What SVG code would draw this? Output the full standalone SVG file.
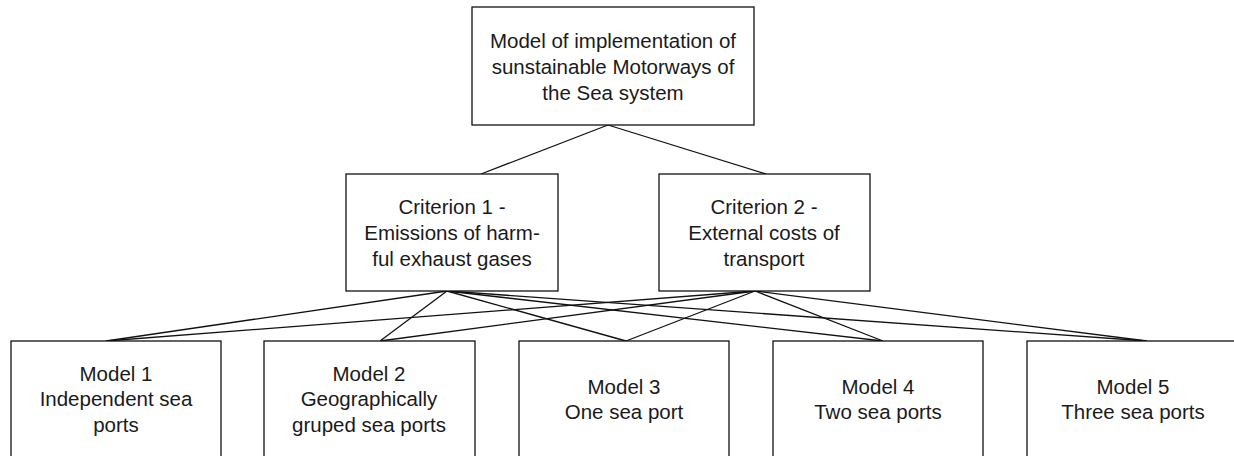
<svg xmlns="http://www.w3.org/2000/svg" width="1234" height="456" viewBox="0 0 1234 456">
<style>
.box{fill:#fff;stroke:#111;stroke-width:1.3}
.t{font-family:"Liberation Sans",Arial,sans-serif;font-size:20.5px;fill:#1a1a1a;text-anchor:middle}
.c{stroke:#111;stroke-width:1.3;fill:none}
</style>
<rect width="1234" height="456" fill="#fff"/>
<g id="connectors">
<line class="c" x1="608" y1="125" x2="481" y2="174"/>
<line class="c" x1="608" y1="125" x2="766" y2="174"/>
<line class="c" x1="447" y1="291" x2="106" y2="341"/>
<line class="c" x1="447" y1="291" x2="380" y2="341"/>
<line class="c" x1="447" y1="291" x2="626" y2="341"/>
<line class="c" x1="447" y1="291" x2="883" y2="341"/>
<line class="c" x1="447" y1="291" x2="1147" y2="341"/>
<line class="c" x1="755" y1="291" x2="106" y2="341"/>
<line class="c" x1="755" y1="291" x2="380" y2="341"/>
<line class="c" x1="755" y1="291" x2="626" y2="341"/>
<line class="c" x1="755" y1="291" x2="883" y2="341"/>
<line class="c" x1="755" y1="291" x2="1147" y2="341"/>
</g>
<g id="root">
<rect class="box" x="472" y="7" width="282" height="118"/>
<text class="t" x="613" y="48">Model of implementation of</text>
<text class="t" x="613" y="74">sunstainable Motorways of</text>
<text class="t" x="613" y="100">the Sea system</text>
</g>
<g id="criterion1">
<rect class="box" x="346" y="174" width="212" height="117"/>
<text class="t" x="452" y="214">Criterion 1 -</text>
<text class="t" x="452" y="240">Emissions of harm-</text>
<text class="t" x="452" y="266">ful exhaust gases</text>
</g>
<g id="criterion2">
<rect class="box" x="659" y="174" width="211" height="117"/>
<text class="t" x="764" y="214">Criterion 2 -</text>
<text class="t" x="764" y="240">External costs of</text>
<text class="t" x="764" y="266">transport</text>
</g>
<g id="model1">
<rect class="box" x="11" y="341" width="210" height="130"/>
<text class="t" x="116" y="381">Model 1</text>
<text class="t" x="116" y="406">Independent sea</text>
<text class="t" x="116" y="432">ports</text>
</g>
<g id="model2">
<rect class="box" x="264" y="341" width="211" height="130"/>
<text class="t" x="369" y="381">Model 2</text>
<text class="t" x="369" y="406">Geographically</text>
<text class="t" x="369" y="432">gruped sea ports</text>
</g>
<g id="model3">
<rect class="box" x="519" y="341" width="210" height="130"/>
<text class="t" x="624" y="394">Model 3</text>
<text class="t" x="624" y="419">One sea port</text>
</g>
<g id="model4">
<rect class="box" x="773" y="341" width="210" height="130"/>
<text class="t" x="878" y="394">Model 4</text>
<text class="t" x="878" y="419">Two sea ports</text>
</g>
<g id="model5">
<rect class="box" x="1027" y="341" width="230" height="130"/>
<text class="t" x="1133" y="394">Model 5</text>
<text class="t" x="1133" y="419">Three sea ports</text>
</g>
</svg>
